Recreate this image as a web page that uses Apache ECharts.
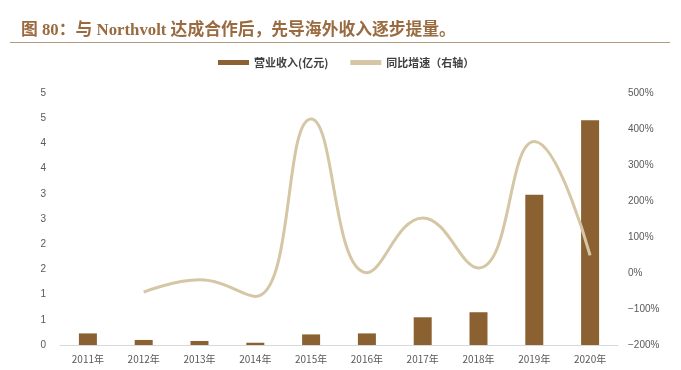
<!DOCTYPE html>
<html>
<head>
<meta charset="utf-8">
<script src="https://cdn.jsdelivr.net/npm/echarts@6/dist/echarts.min.js"></script>
<style>html,body{margin:0;padding:0;background:#fff;}#c{width:681px;height:370px;}</style>
</head>
<body>
<div id="c"></div>
<script>
var categories = ['2011年','2012年','2013年','2014年','2015年','2016年','2017年','2018年','2019年','2020年'];
var revenue = [0.23, 0.10, 0.08, 0.045, 0.21, 0.23, 0.55, 0.65, 2.98, 4.46];
var growth = [null, -53, -19, -65, 428, 1, 153, 14, 365, 49];
var leftTicks = [0, 0.5, 1, 1.5, 2, 2.5, 3, 3.5, 4, 4.5, 5];
var rightTicks = [-200, -100, 0, 100, 200, 300, 400, 500];
var titleText = '图 80：与 Northvolt 达成合作后，先导海外收入逐步提量。';
var seriesNames = ['营业收入(亿元)', '同比增速（右轴）'];

var chart = echarts.init(document.getElementById('c'));
chart.setOption({
  animation: false,
  title: {
    text: titleText,
    left: 16, top: 17,
    textStyle: { fontFamily: '"Liberation Serif","Noto Sans CJK SC",serif', fontWeight: 'bold', fontSize: 16.8, color: '#9a6a40' }
  },
  graphic: [{
    type: 'line', shape: { x1: 10, y1: 42.5, x2: 670, y2: 42.5 },
    style: { stroke: '#b09a80', lineWidth: 1 }
  }],
  legend: {
    left: 213, top: 52,
    itemGap: 22, itemWidth: 31, itemHeight: 5,
    textStyle: { fontFamily: '"Noto Sans CJK SC",sans-serif', fontWeight: 'bold', fontSize: 11, color: '#404040' },
    data: [
      { name: seriesNames[0], icon: 'rect' },
      { name: seriesNames[1], icon: 'rect' }
    ]
  },
  grid: { left: 60, right: 63, top: 93, bottom: 25 },
  xAxis: {
    type: 'category', data: categories,
    axisLine: { lineStyle: { color: '#d9d9d9' } },
    axisTick: { show: false },
    axisLabel: { color: '#595959', fontSize: 10, margin: 9, fontFamily: '"Noto Sans CJK SC",sans-serif' }
  },
  yAxis: [{
    type: 'value', min: leftTicks[0], max: leftTicks[leftTicks.length - 1], interval: 0.5,
    splitLine: { show: false }, axisLine: { show: false }, axisTick: { show: false },
    axisLabel: { color: '#595959', fontSize: 10, margin: 14, fontFamily: 'Liberation Sans, sans-serif',
      formatter: function (v) { return String(Math.round(v + 1e-9)); } }
  }, {
    type: 'value', min: rightTicks[0], max: rightTicks[rightTicks.length - 1], interval: 100,
    splitLine: { show: false }, axisLine: { show: false }, axisTick: { show: false },
    axisLabel: { color: '#595959', fontSize: 10, margin: 10, fontFamily: 'Liberation Sans, sans-serif',
      formatter: function (v) { return (v < 0 ? '−' + Math.abs(v) : v) + '%'; } }
  }],
  series: [{
    name: seriesNames[0], type: 'bar', data: revenue, yAxisIndex: 0,
    barWidth: 18, itemStyle: { color: '#8b6131' }
  }, {
    name: seriesNames[1], type: 'line', data: growth, yAxisIndex: 1,
    smooth: 0.45, showSymbol: false, symbol: 'none', connectNulls: false,
    lineStyle: { color: '#d5c7a5', width: 3 }, itemStyle: { color: '#d5c7a5' }
  }]
});
</script>
</body>
</html>
